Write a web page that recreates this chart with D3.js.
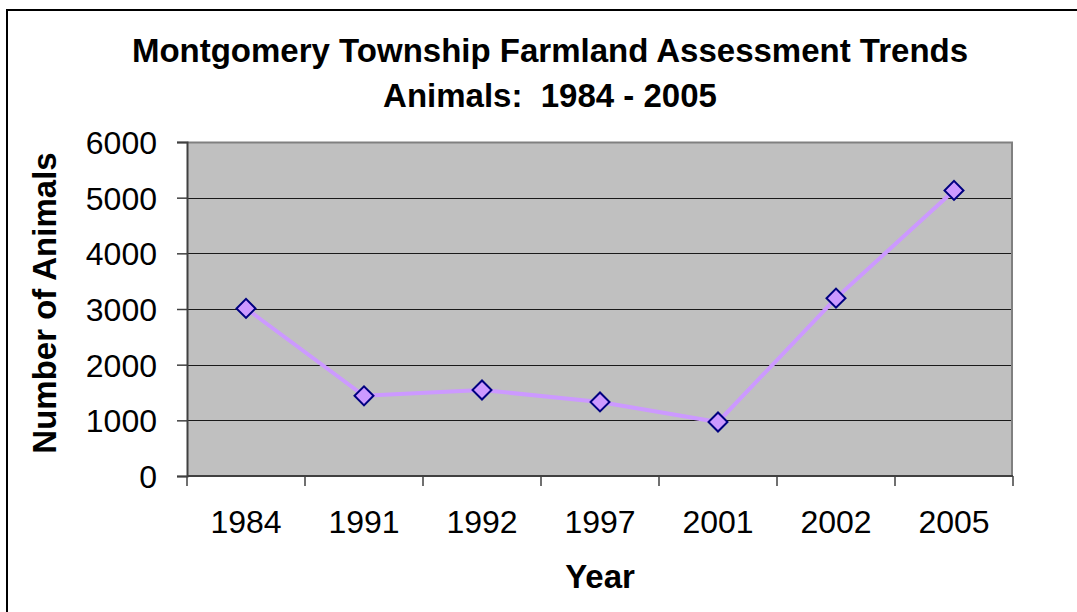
<!DOCTYPE html>
<html>
<head>
<meta charset="utf-8">
<script src="https://cdn.jsdelivr.net/npm/d3@7"></script>
<style>
  body { margin: 0; background: #fff; }
  svg text { font-family: "Liberation Sans", Arial, sans-serif; fill: #000; }
</style>
</head>
<body>
<div id="chart"></div>
<script>
// Chart data
const years = ['1984', '1991', '1992', '1997', '2001', '2002', '2005'];
const animals = [3010, 1440, 1545, 1330, 970, 3195, 5130];
const yTicks = [0, 1000, 2000, 3000, 4000, 5000, 6000];
const titleLines = ['Montgomery Township Farmland Assessment Trends', 'Animals:  1984 - 2005'];

const width = 1077, height = 612;
const margin = { top: 142, right: 64, bottom: 136, left: 187 };
const chartWidth = width - margin.left - margin.right;
const chartHeight = height - margin.top - margin.bottom;

const svg = d3.select('#chart')
    .append('svg')
    .attr('width', width)
    .attr('height', height);

// Outer chart border (runs off the right/bottom edge like the original)
svg.append('rect')
    .attr('x', 7)
    .attr('y', 10)
    .attr('width', 1090)
    .attr('height', 640)
    .attr('fill', 'none')
    .attr('stroke', '#000')
    .attr('stroke-width', 2);

// Title
const title = svg.append('text')
    .attr('x', 550)
    .attr('text-anchor', 'middle')
    .style('font-size', '33px')
    .style('font-weight', 'bold');
titleLines.forEach((t, i) => {
    title.append('tspan')
        .attr('x', 550)
        .attr('y', 62 + i * 45)
        .style('white-space', 'pre')
        .text(t);
});

const g = svg.append('g')
    .attr('transform', `translate(${margin.left},${margin.top})`);

// Scales
const xScale = d3.scaleBand()
    .domain(years)
    .range([0, chartWidth])
    .padding(0);

const yScale = d3.scaleLinear()
    .domain([0, 6000])
    .range([chartHeight, 0]);

// Plot background
g.append('rect')
    .attr('width', chartWidth)
    .attr('height', chartHeight)
    .attr('fill', '#c0c0c0');

// Gridlines
g.selectAll('.grid')
    .data(yTicks.filter(d => d > 0 && d < 6000))
    .join('line')
    .attr('class', 'grid')
    .attr('x1', 0)
    .attr('x2', chartWidth)
    .attr('y1', d => Math.round(yScale(d)) + 0.5)
    .attr('y2', d => Math.round(yScale(d)) + 0.5)
    .attr('stroke', '#1a1a1a')
    .attr('stroke-width', 1);

// Plot frame top/right
g.append('path')
    .attr('d', `M0,0.5H${chartWidth - 1}V${chartHeight}`)
    .attr('fill', 'none')
    .attr('stroke', '#808080')
    .attr('stroke-width', 2);

// Y axis
const yAxis = d3.axisLeft(yScale)
    .tickValues(yTicks)
    .tickSize(10)
    .tickPadding(20)
    .tickFormat(d3.format('d'));

const yAxisG = g.append('g')
    .call(yAxis);
yAxisG.select('.domain').attr('stroke', '#404040').attr('stroke-width', 2);
yAxisG.selectAll('.tick line').attr('stroke', '#404040').attr('stroke-width', 1.5);
yAxisG.selectAll('.tick text')
    .style('font-size', '32px')
    .style('font-family', '"Liberation Sans", Arial, sans-serif')
    .attr('fill', '#000')
    .attr('dy', '0.36em');

// X axis (ticks at category boundaries)
const xAxisG = g.append('g')
    .attr('transform', `translate(0,${chartHeight})`);
xAxisG.append('line')
    .attr('x1', 0)
    .attr('x2', chartWidth)
    .attr('stroke', '#404040')
    .attr('stroke-width', 2);
const boundaries = years.map(d => xScale(d)).concat([chartWidth]);
xAxisG.selectAll('.xtick')
    .data(boundaries)
    .join('line')
    .attr('class', 'xtick')
    .attr('x1', d => d)
    .attr('x2', d => d)
    .attr('y1', 0)
    .attr('y2', 10)
    .attr('stroke', '#404040')
    .attr('stroke-width', 1.5);
xAxisG.selectAll('.xlabel')
    .data(years)
    .join('text')
    .attr('class', 'xlabel')
    .attr('x', d => xScale(d) + xScale.bandwidth() / 2)
    .attr('y', 57)
    .attr('text-anchor', 'middle')
    .style('font-size', '32px')
    .text(d => d);

// Axis titles
svg.append('text')
    .attr('transform', 'rotate(-90)')
    .attr('x', -303)
    .attr('y', 56)
    .attr('text-anchor', 'middle')
    .style('font-size', '33px')
    .style('font-weight', 'bold')
    .text('Number of Animals');

svg.append('text')
    .attr('x', 600)
    .attr('y', 588)
    .attr('text-anchor', 'middle')
    .style('font-size', '33px')
    .style('font-weight', 'bold')
    .text('Year');

// Series line
const line = d3.line()
    .x((d, i) => xScale(years[i]) + xScale.bandwidth() / 2)
    .y(d => yScale(d));

g.append('path')
    .datum(animals)
    .attr('fill', 'none')
    .attr('stroke', '#cc99ff')
    .attr('stroke-width', 4)
    .attr('d', line);

// Diamond markers
const diamond = d3.symbol().type(d3.symbolSquare).size(180);
g.selectAll('.marker')
    .data(animals)
    .join('path')
    .attr('class', 'marker')
    .attr('d', diamond)
    .attr('transform', (d, i) => `translate(${xScale(years[i]) + xScale.bandwidth() / 2},${yScale(d)}) rotate(45)`)
    .attr('fill', '#cc99ff')
    .attr('stroke', '#000080')
    .attr('stroke-width', 2);
</script>
</body>
</html>
